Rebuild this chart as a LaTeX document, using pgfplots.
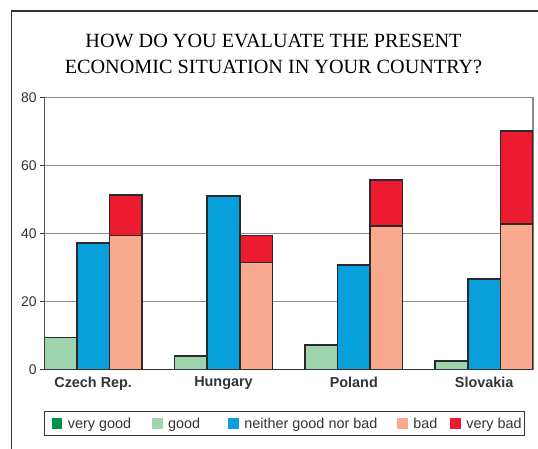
\documentclass[border=0pt]{standalone}
\usepackage{fontspec}
\setmainfont{Liberation Sans}
\newfontfamily\titlefont{Liberation Serif}
\usepackage{pgfplots}
\pgfplotsset{compat=1.18}
\usepackage{pgfplotstable}

\definecolor{vgood}{HTML}{00904A}
\definecolor{good}{HTML}{9DD3AD}
\definecolor{neither}{HTML}{099FDB}
\definecolor{bad}{HTML}{F8A98E}
\definecolor{vbad}{HTML}{ED1B2F}
\definecolor{outline}{HTML}{2A2A2A}
\definecolor{gridgray}{HTML}{8C8C8C}
\definecolor{axisdark}{HTML}{333333}

% survey shares (%) per country; very bad sits on top of bad
\pgfplotstableread{
idx good neither bad verybad
0   9.4  37.2   39.3  12.0
1   4.0  51.0   31.4   7.9
2   7.1  30.7   42.2  13.5
3   2.4  26.5   42.7  27.4
}\survey

\pgfplotsset{
  sqlegend/.style={legend image code/.code={\fill[##1, draw=none] (0pt,-5.3pt) rectangle (10.6pt,5.3pt);}},
  surveybar/.style={ybar, bar width=1, bar shift=0pt, draw=outline, line width=1.6pt},
}

\begin{document}
\begin{tikzpicture}[x=1pt,y=1pt]
\path[use as bounding box] (0,0) rectangle (538,448);
\begin{scope}
  \clip (0,0) rectangle (538,448);
  \draw[line width=1.5pt, color=axisdark] (11.7,-20) -- (11.7,437) -- (560,437);
\end{scope}
\node[font=\titlefont\fontsize{20.2}{24}\selectfont, anchor=base, inner sep=0pt] at (273.5,400.7) {HOW DO YOU EVALUATE THE PRESENT};
\node[font=\titlefont\fontsize{20.2}{24}\selectfont, anchor=base, inner sep=0pt] at (273.5,374) {ECONOMIC SITUATION IN YOUR COUNTRY?};

\begin{axis}[
  at={(44.3pt,78.7pt)}, anchor=south west,
  scale only axis, width=488.7pt, height=272pt,
  xmin=0, xmax=15, ymin=0, ymax=80,
  ytick={0,20,40,60,80},
  xtick={1.5,5.5,9.5,13.5},
  xticklabels={Czech Rep., Hungary, Poland, Slovakia},
  tick pos=left, tick align=outside, major tick length=4pt,
  xtick style={draw=none},
  ytick style={color=axisdark, line width=1.3pt},
  ymajorgrids, grid style={color=gridgray, line width=1.4pt},
  axis line style={color=gridgray, line width=1.4pt},
  /pgf/number format/assume math mode=true,
  yticklabel style={font=\fontsize{14}{16}\selectfont, color=axisdark},
  xticklabel style={font=\bfseries\fontsize{14.4}{17}\selectfont, color=axisdark},
  legend columns=5,
  legend style={at={(axis description cs:-0.0012,-0.1533)}, anchor=north west,
    draw=axisdark, line width=1.3pt, inner xsep=7.5pt, inner ysep=6pt,
    nodes={inner sep=0pt, text=axisdark}, column sep=0pt, cells={anchor=west},
    font=\fontsize{14.4}{17}\selectfont},
]
\addplot[surveybar, fill=good, forget plot]
  table[x expr=4*\thisrow{idx}+0.5, y=good]{\survey};
\addplot[surveybar, fill=neither, forget plot]
  table[x expr=4*\thisrow{idx}+1.5, y=neither]{\survey};
\addplot[surveybar, fill=vbad, forget plot]
  table[x expr=4*\thisrow{idx}+2.5, y expr=\thisrow{bad}+\thisrow{verybad}]{\survey};
\addplot[surveybar, fill=bad, forget plot]
  table[x expr=4*\thisrow{idx}+2.5, y=bad]{\survey};

\draw[color=axisdark, line width=1.5pt] (rel axis cs:0,1) -- (rel axis cs:0,0) -- (rel axis cs:1,0);

\addlegendimage{sqlegend, fill=vgood}
\addlegendentry{\makebox[89.6pt][l]{\hspace{5.5pt}very good}}
\addlegendimage{sqlegend, fill=good}
\addlegendentry{\makebox[65.7pt][l]{\hspace{5.5pt}good}}
\addlegendimage{sqlegend, fill=neither}
\addlegendentry{\makebox[158.3pt][l]{\hspace{5.5pt}neither good nor bad}}
\addlegendimage{sqlegend, fill=bad}
\addlegendentry{\makebox[42.5pt][l]{\hspace{5.5pt}bad}}
\addlegendimage{sqlegend, fill=vbad}
\addlegendentry{\makebox[56pt][l]{\hspace{5.5pt}very bad}}
\end{axis}
\end{tikzpicture}
\end{document}
